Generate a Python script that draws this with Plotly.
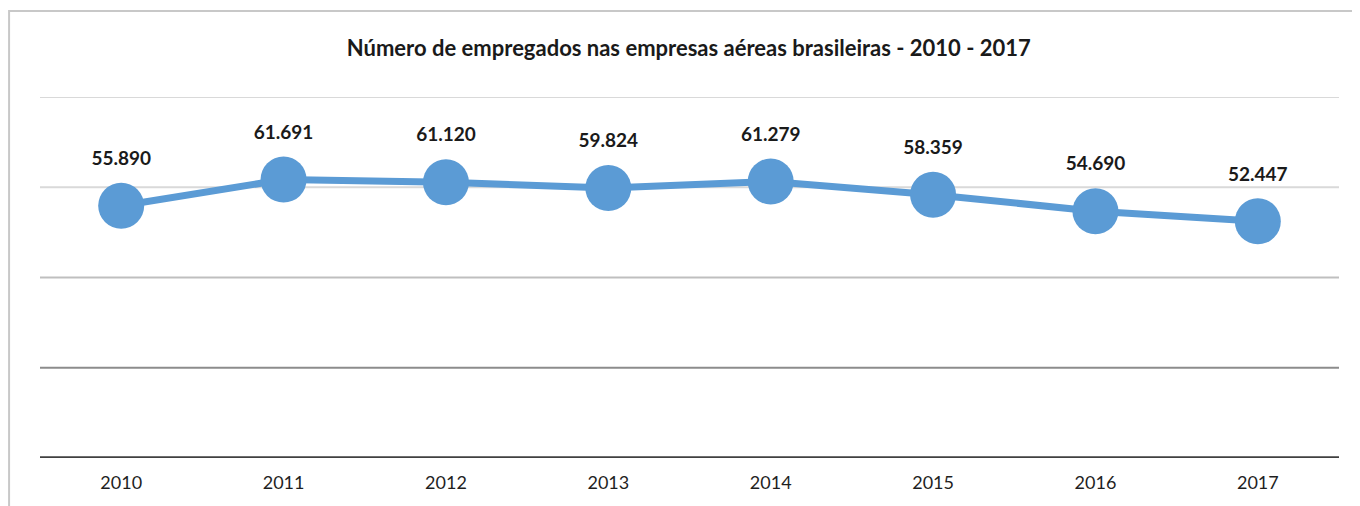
import plotly.graph_objects as go

years = ["2010", "2011", "2012", "2013", "2014", "2015", "2016", "2017"]
employees = [55890, 61691, 61120, 59824, 61279, 58359, 54690, 52447]
labels = ["55.890", "61.691", "61.120", "59.824", "61.279", "58.359", "54.690", "52.447"]
grid_levels = [20000, 40000, 60000, 80000]
grid_colors = ["#8c8c8c", "#bfbfbf", "#d9d9d9", "#d9d9d9"]
title_text = "Número de empregados nas empresas aéreas brasileiras - 2010 - 2017"

fig = go.Figure()
fig.add_trace(go.Scatter(
    x=years, y=employees, mode="lines+markers",
    line=dict(color="#5b9bd5", width=7),
    marker=dict(color="#5b9bd5", size=46, line=dict(width=0)),
    hoverinfo="skip", showlegend=False,
))
# data labels (invisible large markers push the text up)
fig.add_trace(go.Scatter(
    x=years, y=employees, mode="markers+text",
    text=["<b>" + t + "</b>" for t in labels], textposition="top center",
    textfont=dict(family="Lato", size=19, color="#1a1a1a"),
    marker=dict(size=56, opacity=0),
    hoverinfo="skip", showlegend=False, cliponaxis=False,
))

shapes = []
for lvl, col in zip(grid_levels, grid_colors):
    shapes.append(dict(type="line", xref="paper", yref="y", x0=0, x1=1, y0=lvl, y1=lvl,
                       line=dict(color=col, width=2), layer="below"))
shapes.append(dict(type="line", xref="paper", yref="y", x0=0, x1=1, y0=0, y1=0,
                   line=dict(color="#404040", width=3.5), layer="below"))
# outer chart border
shapes.append(dict(type="rect", xref="paper", yref="paper", x0=-0.0238, x1=1.05, y0=-0.3, y1=1.238,
                   line=dict(color="#c8c8c8", width=2), layer="below"))

fig.update_layout(
    width=1360, height=506,
    margin=dict(l=32, r=29, t=89, b=56),
    paper_bgcolor="white", plot_bgcolor="white",
    title=dict(text="<b>" + title_text + "</b>", x=0.5006, xanchor="center", y=0.921, yanchor="middle",
               font=dict(family="Lato", size=22, color="#1a1a1a")),
    xaxis=dict(type="category", range=[-0.5, 7.5], showgrid=False, zeroline=False, showline=False,
               ticks="", tickfont=dict(family="Lato", size=18, color="#1f1f1f"), ticklabelstandoff=12),
    yaxis=dict(range=[0, 80000], showgrid=False, zeroline=False, showticklabels=False, showline=False),
    shapes=shapes,
)

fig.write_html("out.html")
